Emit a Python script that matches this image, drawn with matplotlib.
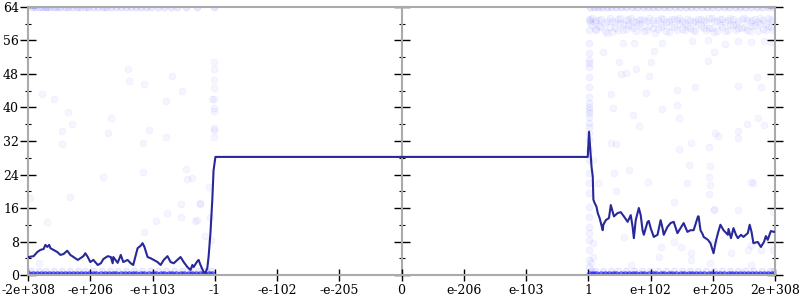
"""
Recreation of a float-position scatter chart: faint scatter of samples
plus a dark rolling line, on a symmetric "-2e+308 ... 2e+308" axis.
"""
import matplotlib
matplotlib.use("Agg")
import matplotlib.pyplot as plt

# ---------------------------------------------------------------------------
# axis labels (x positions are tick indices -6..6)
# ---------------------------------------------------------------------------
X_TICKS = [-6, -5, -4, -3, -2, -1, 0, 1, 2, 3, 4, 5, 6]
X_LABELS = ["-2e+308", "-e+206", "-e+103", "-1", "-e-102", "-e-205", "0",
            "e-206", "e-103", "1", "e+102", "e+205", "2e+308"]
Y_MAJOR = [0, 8, 16, 24, 32, 40, 48, 56, 64]
Y_MINOR = [4, 12, 20, 28, 36, 44, 52, 60]

# ---------------------------------------------------------------------------
# dark line
# ---------------------------------------------------------------------------
line_x = [-5.99, -5.91, -5.85, -5.80, -5.75, -5.72, -5.69, -5.66, -5.64, -5.59,
          -5.53, -5.48, -5.43, -5.37, -5.32, -5.27, -5.20, -5.16, -5.11, -5.08,
          -5.04, -5.00, -4.95, -4.88, -4.83, -4.79, -4.72, -4.67, -4.64, -4.63,
          -4.56, -4.51, -4.47, -4.40, -4.35, -4.31, -4.24, -4.19, -4.16, -4.13,
          -4.08, -4.03, -3.98, -3.92, -3.87, -3.82, -3.76, -3.71, -3.66, -3.60,
          -3.55, -3.50, -3.44, -3.39, -3.36, -3.34, -3.28, -3.26, -3.23, -3.18,
          -3.15, -3.12, -3.10, -3.07, -3.04, -3.02, -2.99,
          2.99, 3.01, 3.05, 3.07, 3.08, 3.10, 3.13, 3.15, 3.18, 3.23,
          3.24, 3.28, 3.33, 3.36, 3.39, 3.41, 3.47, 3.52, 3.57, 3.63,
          3.68, 3.71, 3.73, 3.76, 3.81, 3.84, 3.87, 3.89, 3.95, 3.97,
          4.00, 4.05, 4.11, 4.16, 4.19, 4.21, 4.27, 4.32, 4.37, 4.43,
          4.48, 4.53, 4.59, 4.64, 4.69, 4.76, 4.77, 4.80, 4.84, 4.85,
          4.92, 4.96, 5.01, 5.04, 5.08, 5.12, 5.17, 5.24, 5.25, 5.29,
          5.33, 5.37, 5.40, 5.45, 5.49, 5.56, 5.59, 5.62, 5.65, 5.72,
          5.77, 5.82, 5.85, 5.88, 5.93, 5.98, 6.00]
line_y = [4.3, 4.5, 5.5, 6.0, 6.2, 7.2, 6.7, 7.2, 6.4, 6.0,
          5.5, 4.8, 5.0, 5.8, 4.8, 4.3, 3.6, 4.0, 4.5, 5.2,
          4.3, 3.1, 3.6, 2.4, 2.8, 3.8, 4.5, 4.3, 2.8, 4.3,
          2.9, 4.8, 3.1, 3.6, 2.8, 2.4, 6.4, 7.0, 7.6, 6.7,
          4.3, 4.0, 3.6, 3.1, 2.4, 3.6, 4.5, 3.1, 2.8, 3.6,
          4.3, 3.1, 1.9, 1.2, 2.4, 1.9, 3.3, 3.6, 2.4, 0.7,
          0.5, 1.7, 4.3, 10.0, 18.0, 25.0, 28.2,
          28.2, 34.2, 25.9, 23.5, 18.0, 17.2, 16.3, 14.8, 13.6, 10.7,
          12.0, 13.1, 13.6, 16.7, 15.1, 14.0, 14.8, 15.0, 14.0, 12.7,
          14.3, 11.5, 8.8, 13.1, 16.0, 14.3, 10.7, 9.6, 12.7, 12.9,
          11.2, 9.1, 9.6, 13.1, 11.2, 9.6, 11.5, 12.4, 12.7, 10.0,
          11.2, 12.4, 10.3, 10.7, 10.7, 14.0, 14.0, 10.7, 9.6, 9.1,
          8.4, 7.6, 5.2, 7.6, 10.0, 12.0, 10.7, 9.6, 11.0, 8.8,
          11.2, 9.6, 8.8, 9.6, 9.1, 10.0, 12.0, 10.3, 7.6, 7.9,
          6.7, 7.9, 9.3, 8.4, 10.5, 10.3, 10.3]

# ---------------------------------------------------------------------------
# dense rows of samples (y = 0, y = 1, y = 64)
# ---------------------------------------------------------------------------
row0_x = [-5.98, -5.92, -5.86, -5.79, -5.73, -5.66, -5.60, -5.54, -5.47, -5.41,
          -5.34, -5.28, -5.22, -5.15, -5.09, -5.02, -4.96, -4.90, -4.83, -4.77,
          -4.70, -4.64, -4.58, -4.51, -4.45, -4.38, -4.32, -4.26, -4.19, -4.13,
          -4.06, -4.00, -3.94, -3.87, -3.81, -3.74, -3.68, -3.62, -3.55, -3.49,
          -3.42, -3.36, -3.30, -3.23, -3.17, -3.10, -3.05,
          3.02, 3.07, 3.13, 3.20, 3.26, 3.33, 3.39, 3.45, 3.52, 3.58,
          3.65, 3.71, 3.77, 3.84, 3.90, 3.97, 4.03, 4.09, 4.16, 4.22,
          4.29, 4.35, 4.41, 4.48, 4.54, 4.61, 4.67, 4.73, 4.80, 4.86,
          4.93, 4.99, 5.05, 5.12, 5.18, 5.25, 5.31, 5.37, 5.44, 5.50,
          5.57, 5.63, 5.69, 5.76, 5.82, 5.89, 5.95, 5.99]
row1_x = [-5.95, -5.83, -5.71, -5.58, -5.46, -5.33, -5.20, -5.08, -4.95, -4.81,
          -4.69, -4.55, -4.43, -4.30, -4.17, -4.04, -3.91, -3.78, -3.65, -3.52,
          -3.40, -3.27, -3.14, -3.06,
          3.04, 3.11, 3.23, 3.36, 3.48, 3.61, 3.74, 3.86, 3.99, 4.12,
          4.25, 4.38, 4.50, 4.63, 4.76, 4.89, 5.01, 5.14, 5.27, 5.40,
          5.52, 5.65, 5.78, 5.91, 5.98]
row64_x = [-5.93, -5.88, -5.83, -5.78, -5.73, -5.69, -5.64, -5.59, -5.53, -5.48,
           -5.41, -5.35, -5.29, -5.22, -5.16, -5.09, -5.03, -4.96, -4.88, -4.80,
           -4.74, -4.67, -4.59, -4.51, -4.43, -4.35, -4.27, -4.19, -4.11, -4.03,
           -3.92, -3.82, -3.71, -3.60, -3.47, -3.28, -3.02,
           3.03, 3.09, 3.15, 3.22, 3.30, 3.37, 3.45, 3.53, 3.61, 3.70,
           3.78, 3.87, 3.95, 4.04, 4.12, 4.21, 4.30, 4.39, 4.47, 4.56,
           4.64, 4.73, 4.82, 4.90, 4.99, 5.08, 5.17, 5.26, 5.35, 5.44,
           5.52, 5.61, 5.70, 5.79, 5.88, 5.96]

# cloud just under 64 on the right side
cloud_x = [3.02, 3.06, 3.10, 3.13, 3.17, 3.21, 3.26, 3.30, 3.34, 3.38,
           3.43, 3.47, 3.51, 3.55, 3.60, 3.64, 3.68, 3.72, 3.77, 3.81,
           3.85, 3.90, 3.94, 3.98, 4.03, 4.07, 4.11, 4.16, 4.20, 4.24,
           4.29, 4.33, 4.37, 4.42, 4.46, 4.50, 4.55, 4.59, 4.63, 4.68,
           4.72, 4.76, 4.81, 4.85, 4.89, 4.94, 4.98, 5.02, 5.07, 5.11,
           5.15, 5.20, 5.24, 5.28, 5.33, 5.37, 5.41, 5.46, 5.50, 5.54,
           5.59, 5.63, 5.67, 5.72, 5.76, 5.80, 5.85, 5.89, 5.93, 5.97]
cloud_y1 = [61.2, 59.8, 60.5, 58.6, 61.0, 59.2, 60.1, 57.9, 61.4, 60.6,
            59.1, 61.1, 60.2, 58.4, 60.9, 59.6, 61.3, 58.9, 60.4, 59.9,
            61.2, 58.2, 60.7, 59.4, 61.0, 60.1, 58.7, 61.3, 59.7, 60.5,
            58.1, 61.1, 59.3, 60.8, 61.4, 58.8, 60.2, 59.5, 61.0, 58.4,
            60.6, 59.9, 61.2, 58.9, 60.3, 59.1, 61.3, 60.7, 58.3, 59.8,
            61.1, 60.4, 58.6, 61.4, 59.6, 60.0, 58.9, 61.2, 59.3, 60.8,
            58.2, 61.0, 59.7, 60.5, 61.3, 58.7, 60.1, 59.4, 61.1, 60.6]
cloud_y2 = [60.3, 61.4, 58.8, 60.9, 59.5, 61.2, 58.3, 60.7, 59.2, 58.1,
            60.4, 58.5, 61.3, 60.0, 58.8, 61.2, 59.4, 60.6, 58.2, 61.0,
            59.3, 60.8, 58.5, 61.3, 59.0, 57.8, 60.9, 59.2, 61.1, 58.3,
            60.6, 59.5, 61.2, 58.4, 59.9, 60.7, 58.6, 61.2, 59.1, 60.4,
            58.2, 61.1, 59.4, 60.8, 58.5, 61.3, 59.0, 58.1, 60.6, 61.2,
            59.2, 58.3, 60.9, 59.7, 61.1, 58.4, 60.7, 59.0, 61.3, 58.6,
            60.3, 59.5, 61.2, 58.3, 59.9, 60.8, 58.6, 61.3, 59.2, 58.5]

# ---------------------------------------------------------------------------
# sparse samples
# ---------------------------------------------------------------------------
sparse_x = [-5.77, -5.59, -5.35, -5.30, -5.45, -5.45, -4.67, -4.72, -4.39, -4.37,
            -4.14, -4.16, -4.05, -3.78, -3.69, -3.79, -3.52,
            -3.01, -3.01, -3.01, -3.01, -3.01, -3.01, -3.01, -3.01, -3.01, -3.01,
            -3.05,
            -5.96, -5.33, -5.69, -4.79, -5.83, -4.16, -4.13, -3.94, -3.76, -3.55,
            -3.55, -3.47, -3.45, -3.37, -3.31, -3.24, -3.16, -3.10, -3.23, -3.28,
            -3.06, -3.07,
            3.24, 3.49, 3.52, 3.60, 3.76, 3.97, 4.00, 4.06, 3.37, 3.92,
            4.43, 4.71, 5.40, 5.70, 5.77, 4.92, 5.01, 5.93, 3.39, 3.71,
            4.19, 4.43, 4.45, 3.82, 5.04, 5.08, 5.40, 5.40, 5.54, 5.72,
            5.82, 3.36, 3.44, 4.64, 4.93, 4.45, 3.55, 3.73, 4.19, 4.67,
            4.92, 5.20, 5.40, 5.61, 5.82,
            3.65, 3.41, 3.15, 3.08, 3.45, 3.95, 4.61, 4.96, 4.96, 4.59,
            4.93, 5.61, 5.65, 5.40, 5.01, 4.93, 3.57, 4.16, 4.13, 4.48,
            3.08, 3.08, 5.56, 5.96, 3.04, 4.64, 3.68, 4.37, 5.01, 5.96,
            4.37, 4.64, 5.01, 5.29, 5.61, 5.77, 4.96, 5.61]
sparse_y = [43.2, 42.0, 38.9, 36.0, 34.4, 31.3, 37.5, 33.9, 49.2, 46.3,
            45.6, 31.5, 34.6, 41.6, 47.5, 33.0, 44.0,
            50.9, 49.2, 46.6, 44.7, 42.0, 39.9, 39.2, 35.1, 34.6, 33.0,
            42.0,
            18.4, 18.6, 12.7, 23.4, 2.9, 24.6, 10.3, 12.9, 14.8, 17.0,
            13.9, 25.3, 22.9, 23.1, 12.9, 17.0, 9.3, 21.0, 17.2, 13.1,
            8.4, 13.9,
            53.3, 50.9, 48.0, 48.2, 49.2, 47.5, 50.9, 53.5, 43.2, 43.5,
            44.2, 44.9, 45.1, 47.3, 44.9, 51.1, 53.3, 55.6, 39.9, 38.2,
            39.6, 40.6, 37.5, 35.6, 33.9, 33.2, 34.4, 32.7, 36.0, 37.5,
            35.8, 31.5, 31.3, 31.5, 30.6, 30.1, 55.4, 55.4, 55.4, 55.8,
            56.0, 55.2, 55.8, 55.6, 55.8,
            25.0, 24.3, 21.9, 27.4, 20.0, 22.2, 26.3, 26.0, 21.5, 21.9,
            23.4, 22.2, 21.9, 15.5, 15.5, 19.3, 9.1, 6.7, 4.3, 6.7,
            7.6, 4.3, 6.0, 6.0, 2.9, 3.6, 2.4, 17.4, 15.8, 15.0,
            7.9, 5.3, 7.9, 5.3, 7.2, 6.0, 2.9, 2.4]

# column of samples right at "1"
col1_y = [60.9, 58.5, 55.4, 53.0, 51.3, 50.6, 49.7, 47.3, 44.9, 42.5,
          41.1, 40.1, 39.4, 38.7, 37.7, 36.3, 35.3, 33.9, 32.2, 29.9,
          27.5, 24.4, 22.0, 19.6, 16.2, 13.9, 11.5, 10.0, 8.4, 6.0,
          3.6, 1.9]

LINE_COLOR = "#28289a"
DOT_COLOR = "#1a1aff"
SPINE_GRAY = "#aaaaaa"

plt.rcParams["font.family"] = ["DejaVu Serif"]

fig = plt.figure(figsize=(8, 3), dpi=100)
ax = fig.add_axes([0.035, 0.0833, 0.934, 0.8934])

# faint samples
dot = dict(s=24, color=DOT_COLOR, lw=0.6, zorder=2)
ax.scatter(sparse_x, sparse_y, alpha=0.045, **dot)
ax.scatter([3.01] * len(col1_y), col1_y, alpha=0.05, **dot)
ax.scatter(cloud_x, cloud_y1, alpha=0.045, **dot)
ax.scatter(cloud_x, cloud_y2, alpha=0.045, **dot)
ax.scatter(row64_x, [64] * len(row64_x), alpha=0.09, **dot)
ax.scatter(row1_x, [1] * len(row1_x), alpha=0.08, **dot)
ax.scatter(row0_x, [0] * len(row0_x), s=30, color=DOT_COLOR, lw=0.6,
           alpha=0.55, zorder=2)

# rolling line
ax.plot(line_x, line_y, color=LINE_COLOR, lw=1.5, zorder=4)

ax.set_xlim(-6, 6)
ax.set_ylim(0, 64)
ax.set_xticks(X_TICKS)
ax.set_xticklabels(X_LABELS)
ax.set_yticks(Y_MAJOR)
ax.set_yticks(Y_MINOR, minor=True)

for sp in ax.spines.values():
    sp.set_color(SPINE_GRAY)
    sp.set_linewidth(1.5)

ax.tick_params(axis="x", which="major", direction="inout", length=9, width=1,
               color="black", labelsize=9, pad=2)
ax.tick_params(axis="y", which="major", direction="inout", length=11, width=1,
               color="black", labelsize=9, left=True, right=True, pad=1)
ax.tick_params(axis="y", which="minor", direction="inout", length=5, width=0.8,
               color="black", left=True, right=True)

# middle axis at 0
mid = ax.secondary_yaxis(0.5)
mid.set_yticks(Y_MAJOR)
mid.set_yticks(Y_MINOR, minor=True)
mid.tick_params(axis="y", which="major", direction="inout", length=11, width=1,
                color="black", labelleft=False, labelright=False)
mid.tick_params(axis="y", which="minor", direction="inout", length=5, width=0.8,
                color="black")
for sp in mid.spines.values():
    sp.set_color(SPINE_GRAY)
    sp.set_linewidth(1.5)

fig.savefig("out.png", dpi=100)
